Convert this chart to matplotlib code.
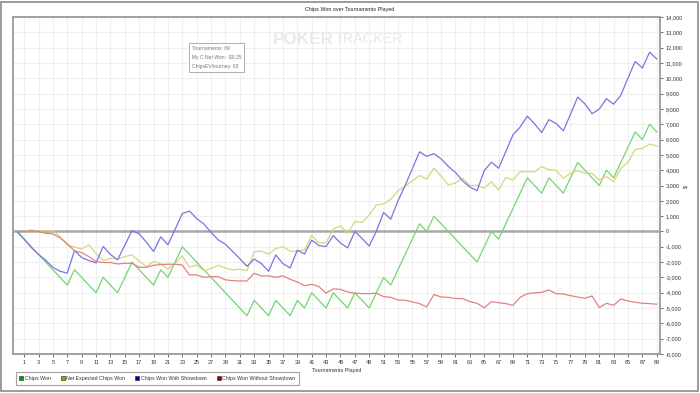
import matplotlib
matplotlib.use("Agg")
import matplotlib.pyplot as plt
from matplotlib.lines import Line2D
from matplotlib.patches import Rectangle
from matplotlib.ticker import FuncFormatter, MultipleLocator

# tournaments 0..89, values in thousands of chips
tourneys = list(range(0, 90))

chips_won = [
    0, -0.5, -1.0, -1.5, -2.0, -2.5, -3.0, -3.5, -2.5, -3.0,
    -3.5, -4.0, -3.0, -3.5, -4.0, -3.0, -2.0, -2.5, -3.0, -3.5,
    -2.5, -3.0, -2.0, -1.0, -1.5, -2.0, -2.5, -3.0, -3.5, -4.0,
    -4.5, -5.0, -5.5, -4.5, -5.0, -5.5, -4.5, -5.0, -5.5, -4.5,
    -5.0, -4.0, -4.5, -5.0, -4.0, -4.5, -5.0, -4.0, -4.5, -5.0,
    -4.0, -3.0, -3.5, -2.5, -1.5, -0.5, 0.5, 0.0, 1.0, 0.5,
    0.0, -0.5, -1.0, -1.5, -2.0, -1.0, 0.0, -0.5, 0.5, 1.5,
    2.5, 3.5, 3.0, 2.5, 3.5, 3.0, 2.5, 3.5, 4.5, 4.0,
    3.5, 3.0, 4.0, 3.5, 4.5, 5.5, 6.5, 6.0, 7.0, 6.5,
]

net_expected = [
    0, 0, 0.1, 0, 0.05, 0.05, -0.34, -0.88, -1.03, -1.14,
    -0.88, -1.43, -1.9, -1.75, -1.8, -1.64, -1.53, -1.93, -2.3, -1.95,
    -2.12, -2.47, -2.08, -1.6, -2.34, -2.19, -2.56, -2.43, -2.21, -2.4,
    -2.51, -2.47, -2.56, -1.32, -1.29, -1.49, -1.12, -0.99, -1.29, -1.29,
    -1.21, -0.25, -0.75, -0.75, 0.16, 0.37, -0.12, 0.64, 0.6, 1.08,
    1.73, 1.8, 2.1, 2.65, 2.95, 3.3, 3.65, 3.42, 4.12, 3.62,
    3.04, 3.16, 3.47, 3.0, 3.02, 2.82, 3.25, 2.71, 3.52, 3.36,
    3.9, 3.9, 3.9, 4.23, 4.03, 3.99, 3.47, 3.8, 3.97, 3.8,
    3.8, 3.36, 3.58, 3.25, 4.12, 4.51, 5.36, 5.43, 5.71, 5.58,
]

won_showdown = [
    0, -0.5, -1.05, -1.5, -1.88, -2.34, -2.6, -2.72, -1.25, -1.7,
    -1.9, -2.05, -0.98, -1.5, -1.85, -0.9, 0.05, -0.15, -0.7, -1.3,
    -0.35, -0.87, 0.14, 1.17, 1.33, 0.84, 0.49, -0.06, -0.55, -0.84,
    -1.3, -1.78, -2.27, -1.8, -2.1, -2.6, -1.53, -2.1, -2.38, -1.22,
    -1.47, -0.56, -0.92, -0.98, -0.27, -0.75, -1.07, 0.0, -0.45, -0.95,
    0.02, 1.24, 0.8, 2.0, 3.0, 4.1, 5.2, 4.9, 5.08, 4.74,
    4.25, 3.85, 3.3, 2.9, 2.66, 3.97, 4.52, 4.13, 5.21, 6.31,
    6.82, 7.53, 7.02, 6.46, 7.3, 7.05, 6.57, 7.65, 8.77, 8.33,
    7.69, 7.99, 8.67, 8.31, 8.89, 10.02, 11.1, 10.67, 11.7, 11.26,
]

won_no_showdown = [
    0, 0, 0.05, 0, -0.12, -0.16, -0.42, -0.8, -1.27, -1.38,
    -1.64, -1.97, -2.03, -2.03, -2.12, -2.08, -2.08, -2.34, -2.34, -2.21,
    -2.16, -2.14, -2.14, -2.19, -2.84, -2.84, -2.99, -2.95, -2.95, -3.16,
    -3.21, -3.23, -3.23, -2.73, -2.9, -2.9, -2.99, -2.9, -3.12, -3.3,
    -3.54, -3.45, -3.6, -4.03, -3.75, -3.78, -3.95, -4.03, -4.06, -4.06,
    -4.03, -4.25, -4.3, -4.47, -4.49, -4.6, -4.71, -4.93, -4.12, -4.28,
    -4.3, -4.38, -4.38, -4.58, -4.69, -4.99, -4.58, -4.65, -4.71, -4.82,
    -4.3, -4.06, -4.01, -3.97, -3.82, -4.06, -4.08, -4.19, -4.28, -4.36,
    -4.21, -4.97, -4.69, -4.82, -4.41, -4.54, -4.62, -4.69, -4.71, -4.75,
]

series = [
    ("Chips Won", chips_won, "#72d672", "#00a000"),
    ("Net Expected Chips Won", net_expected, "#d6d67c", "#a0a000"),
    ("Chips Won With Showdown", won_showdown, "#7676e2", "#0000a0"),
    ("Chips Won Without Showdown", won_no_showdown, "#e08282", "#a00000"),
]

x_ticks = list(range(1, 90, 2))
tooltip = ["Tournaments: 89", "My C Net Won: -$0.25", "ChipsEV/tourney: 63"]

plt.rcParams["font.family"] = ["Liberation Sans", "DejaVu Sans"]

W, H = 700, 393
fig = plt.figure(figsize=(7.0, 3.93), dpi=100)
fig.patch.set_facecolor("white")
fig.add_artist(Rectangle((0.002, 0.004), 0.995, 0.992, transform=fig.transFigure,
                         fill=False, edgecolor="#8a8a8a", lw=1.2))

ax = fig.add_axes([13 / W, 1 - 354 / H, 647 / W, 337 / H])
ax.set_facecolor("white")

# grid + zero line
ax.set_xticks(x_ticks)
ax.yaxis.set_major_locator(MultipleLocator(1000))
ax.grid(True, color="#efefef", lw=0.8)
ax.set_axisbelow(True)
ax.axhline(0, color="#a8a8a8", lw=1.8, zorder=1)

for name, vals, col, _ in series:
    ax.plot(tourneys, [v * 1000 for v in vals], color=col, lw=0.9, zorder=3)

ax.set_xlim(-0.55, 89.45)
ax.set_ylim(-8000, 14000)

ax.yaxis.tick_right()
ax.yaxis.set_major_formatter(FuncFormatter(lambda v, p: f"{int(v):,}"))
ax.tick_params(axis="both", labelsize=4.0, colors="#555555", labelcolor="#333333",
               length=2.5, width=0.6, pad=1.5)
for s in ax.spines.values():
    s.set_color("#9a9a9a")
    s.set_linewidth(1.3)

ax.set_xlabel("Tournaments Played", fontsize=3.9, color="#333333", labelpad=2.5)
fig.text(686 / W, 1 - 186 / H, "$", rotation=90, ha="center", va="center",
         fontsize=4.2, color="#333333")
fig.text(0.5, 1 - 9 / H, "Chips Won over Tournaments Played", ha="center",
         va="center", fontsize=3.9, color="#222222")

# watermark
fig.text(273 / W, 1 - 39 / H, "POKER", fontsize=12.3, fontweight="bold",
         color="#e9e9e9", ha="left", va="center", zorder=0)
fig.text(335 / W, 1 - 39 / H, "TRACKER", fontsize=10.4,
         color="#e9e9e9", ha="left", va="center", zorder=0)

# hover tooltip
fig.text(192 / W, 1 - 45.5 / H, "\n".join(tooltip),
         fontsize=3.6, color="#777777", ha="left", va="top", linespacing=2.1,
         bbox=dict(boxstyle="square,pad=0.55", fc="white", ec="#b0b0b0", lw=0.7), zorder=5)

handles = [Line2D([], [], ls="none", marker="s", ms=2.8, mfc=mk, mec="#222222", mew=0.4)
           for _, _, _, mk in series]
labels = [s[0] for s in series]
leg = fig.legend(handles, labels, loc="upper left", bbox_to_anchor=(13 / W, 1 - 369.5 / H),
                 ncol=4, fontsize=3.8, frameon=True, fancybox=False, handlelength=0.7,
                 handletextpad=0.35, columnspacing=1.9, borderpad=0.7)
leg.get_frame().set_edgecolor("#8a8a8a")
leg.get_frame().set_linewidth(0.8)
for t in leg.get_texts():
    t.set_color("#333333")

fig.savefig("out.png", dpi=100)
